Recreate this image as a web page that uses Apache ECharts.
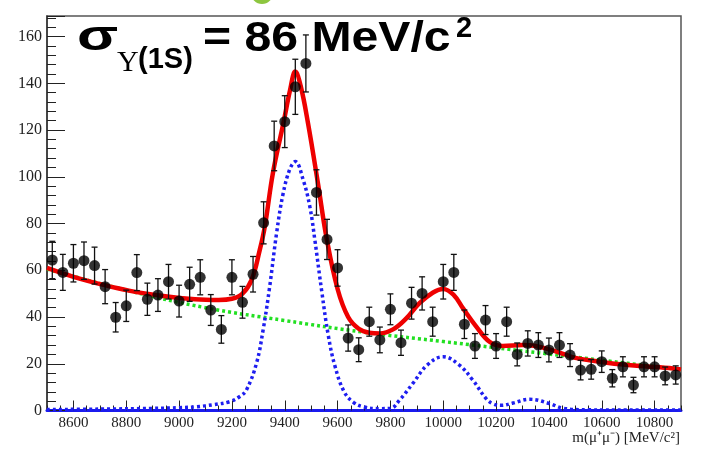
<!DOCTYPE html>
<html>
<head>
<meta charset="utf-8">
<script src="https://cdn.jsdelivr.net/npm/echarts@6/dist/echarts.min.js"></script>
<style>html,body{margin:0;padding:0;background:#fff}#c{width:713px;height:462px}</style>
</head>
<body>
<div id="c"></div>
<script>
// Bin centres [MeV/c^2]
const binCenters = [8520,8560,8600,8640,8680,8720,8760,8800,8840,8880,8920,8960,9000,9040,9080,9120,9160,9200,9240,9280,
  9320,9360,9400,9440,9480,9520,9560,9600,9640,9680,9720,9760,9800,9840,9880,9920,9960,10000,10040,10080,
  10120,10160,10200,10240,10280,10320,10360,10400,10440,10480,10520,10560,10600,10640,10680,10720,10760,10800,10840,10880];
// Event counts per bin
const counts = [64.4,59.1,63.0,64.1,62.0,53.0,39.9,44.8,59.0,47.6,49.4,55.1,46.8,54.0,57.0,43.0,34.7,57.0,46.3,58.3,
  80.3,113.2,123.6,138.5,148.5,93.3,73.2,61.0,31.0,26.0,38.0,30.2,43.3,29.0,45.9,50.1,38.0,55.1,59.1,36.9,
  27.6,38.7,27.6,38.0,24.0,28.7,28.0,25.9,28.0,23.7,17.3,17.6,20.9,13.8,18.7,10.9,18.7,18.7,14.8,15.2];
// Error bar half-lengths
const errors = [8.0,7.7,8.0,8.0,7.9,7.3,6.3,6.7,7.7,6.9,7.0,7.4,6.8,7.3,7.5,6.6,5.9,7.5,6.8,7.6,
  9.0,10.6,11.1,11.8,12.2,9.7,8.6,7.8,5.6,5.1,6.2,5.5,6.6,5.4,6.8,7.1,6.2,7.4,7.7,6.1,
  5.3,6.2,5.3,6.2,4.9,5.4,5.3,5.1,5.3,4.9,4.2,4.2,4.6,3.7,4.3,3.3,4.3,4.3,3.8,3.9];
// Total fit (red)
const fitX = [8500,8560,8620,8690,8810,8940,9060,9150,9200,9240,9275,9305,9325,9355,9395,9420,9440,9460,9488,9526,9558,9600,9640,9680,9720,9760,9810,9860,9910,9960,10000,10040,10075,10125,10175,10225,10300,10350,10420,10460,10500,10590,10670,10745,10820,10900];
const fitY = [61.0,58.7,56.5,54.4,51.3,49.0,47.6,47.3,47.8,50.0,56.0,68.5,79.0,101.5,123.0,137.0,145.0,139.0,123.0,97.0,74.0,52.0,40.0,35.0,33.3,33.0,34.7,39.4,45.9,50.4,52.0,49.4,43.7,35.9,29.4,27.6,28.0,27.6,25.5,24.0,22.5,20.9,19.8,19.0,18.5,17.6];
// Background (green)
const bkgX = [8500,8800,9100,9400,9700,10000,10300,10600,10900];
const bkgY = [60.5,51.5,44.0,38.5,33.5,29.5,25.5,21.5,17.5];
// Signal (blue)
const sigX = [8500,8700,8900,9000,9066,9130,9192,9230,9255,9293,9318,9343,9369,9394,9420,9440,9470,9495,9514,9540,9565,9590,9625,9660,9700,9760,9800,9835,9885,9940,10000,10060,10112,10163,10190,10220,10264,10327,10402,10452,10550,10700,10900];
const sigY = [0.4,0.6,0.9,1.2,1.6,2.5,3.8,6.0,8.8,20.2,34.4,53.0,75.8,92.9,103.5,106.5,98.6,87.2,72.9,51.0,32.0,19.0,8.0,3.5,1.5,0.8,0.9,4.5,11.6,19.5,23.0,19.5,13.0,5.0,2.8,2.2,3.2,4.8,3.0,1.0,0.3,0.2,0.2];
const majorTicks = [8600,8800,9000,9200,9400,9600,9800,10000,10200,10400,10600,10800];

const zip = (a,b) => a.map((v,i)=>[v,b[i]]);
const chart = echarts.init(document.getElementById('c'), null, {renderer:'canvas'});
const serif = 'Liberation Serif, Times New Roman, serif';
const sans = 'Liberation Sans, Arial, Helvetica, sans-serif';
chart.setOption({
  animation:false,
  backgroundColor:'#fff',
  grid:{left:47,right:32,top:16,bottom:51.5,show:true,borderColor:'#555',borderWidth:1.5},
  xAxis:[{
    type:'value',min:8500,max:10900,interval:50,
    axisLine:{lineStyle:{color:'#1a1aee',width:3}},
    axisTick:{inside:true,length:5,lineStyle:{color:'#222',width:1}},
    axisLabel:{formatter:v=> (v%200===0 && v>8500 && v<10900)? String(v):'',fontFamily:serif,fontSize:15,color:'#222',margin:5},
    splitLine:{show:false}
  },{
    type:'value',min:8500,max:10900,position:'bottom',
    axisLine:{show:false},
    axisTick:{inside:true,length:10,customValues:majorTicks,lineStyle:{color:'#222',width:1}},
    axisLabel:{show:false},splitLine:{show:false}
  }],
  yAxis:{
    type:'value',min:0,max:168.8,interval:20,
    axisLine:{show:true,lineStyle:{color:'#333',width:1.5}},
    axisTick:{inside:true,length:18,lineStyle:{color:'#222',width:1}},
    minorTick:{show:true,splitNumber:5,length:9,lineStyle:{color:'#222',width:1}},
    axisLabel:{fontFamily:serif,fontSize:16,color:'#222',margin:5,showMaxLabel:false},
    splitLine:{show:false},minorSplitLine:{show:false}
  },
  series:[
    {type:'line',data:zip(bkgX,bkgY),smooth:0.4,showSymbol:false,symbol:'none',z:2,
     lineStyle:{color:'#22e022',width:3.5,type:[3,3]}},
    {type:'line',data:zip(sigX,sigY),smooth:0.4,showSymbol:false,symbol:'none',z:2,
     lineStyle:{color:'#1e1ef0',width:3.5,type:[3,3]}},
    {type:'line',data:zip(fitX,fitY),smooth:0.4,showSymbol:false,symbol:'none',z:3,
     lineStyle:{color:'#ee0000',width:4.5}},
    {type:'custom',z:4,data:binCenters.map((x,i)=>[x,counts[i],errors[i]]),
     renderItem:(params,api)=>{
       const x=api.value(0),y=api.value(1),e=api.value(2);
       const top=api.coord([x,y+e]),bot=api.coord([x,y-e]);
       const w=3;
       const st={stroke:'#111',lineWidth:1.3};
       return {type:'group',children:[
         {type:'line',shape:{x1:top[0],y1:top[1],x2:bot[0],y2:bot[1]},style:st},
         {type:'line',shape:{x1:top[0]-w,y1:top[1],x2:top[0]+w,y2:top[1]},style:st},
         {type:'line',shape:{x1:bot[0]-w,y1:bot[1],x2:bot[0]+w,y2:bot[1]},style:st}
       ]};
     }},
    {type:'scatter',z:5,data:zip(binCenters,counts),symbol:'circle',symbolSize:11,
     itemStyle:{color:'#000'}}
  ],
  graphic:[
    {type:'circle',shape:{cx:262,cy:-7,r:11},style:{fill:'#8dc63f'},z:10},
    {type:'text',x:77,y:38,scaleX:1.4,style:{text:'σ',font:'bold 43px '+sans,fill:'#000',verticalAlign:'middle'},z:10},
    {type:'text',x:117,y:63,style:{text:'Υ',font:'30px '+serif,fill:'#000',verticalAlign:'middle'},z:10},
    {type:'text',x:138,y:60,style:{text:'(1S)',font:'bold 29px '+sans,fill:'#000',verticalAlign:'middle'},z:10},
    {type:'text',x:203,y:39,scaleX:1.12,style:{text:'= 86 MeV/c',font:'bold 43px '+sans,fill:'#000',verticalAlign:'middle'},z:10},
    {type:'text',x:456,y:29,style:{text:'2',font:'bold 29px '+sans,fill:'#000',verticalAlign:'middle'},z:10},
    {type:'text',x:680,y:438,style:{text:'m(μ⁺μ⁻) [MeV/c²]',font:'15px '+serif,fill:'#222',align:'right',verticalAlign:'middle'},z:10}
  ]
});
</script>
</body>
</html>
